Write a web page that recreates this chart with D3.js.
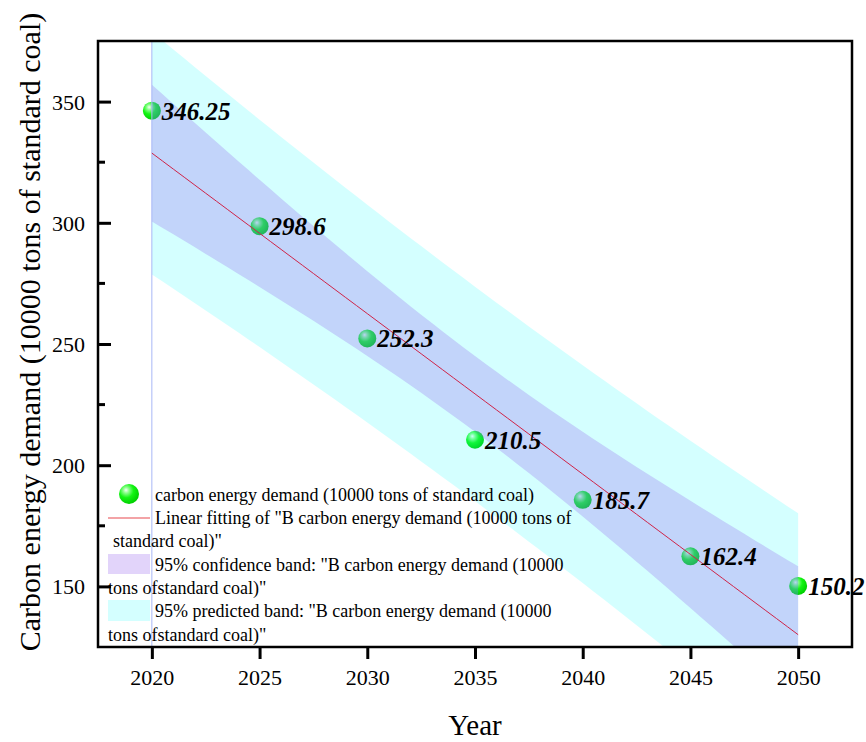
<!DOCTYPE html>
<html>
<head>
<meta charset="utf-8">
<script src="https://cdn.jsdelivr.net/npm/d3@7"></script>
<style>
  html, body { margin: 0; padding: 0; background: #fff; }
  svg { display: block; }
  svg text { font-family: "Liberation Serif", "Times New Roman", serif !important; }
</style>
</head>
<body>
<div id="chart"></div>
<script>
// Carbon energy demand forecast with linear fit, 95% confidence and prediction bands.
const years = [2020, 2025, 2030, 2035, 2040, 2045, 2050];
const demand = [346.25, 298.6, 252.3, 210.5, 185.7, 162.4, 150.2];
const pointLabels = ["346.25", "298.6", "252.3", "210.5", "185.7", "162.4", "150.2"];
const xTicks = [2020, 2025, 2030, 2035, 2040, 2045, 2050];
const yTicks = [150, 200, 250, 300, 350];
const yMinorTicks = [175, 225, 275, 325];
const legendLines = [
  { text: 'carbon energy demand (10000 tons of standard coal)', x: 155, y: 501 },
  { text: 'Linear fitting of "B carbon energy demand (10000 tons of', x: 155, y: 524 },
  { text: 'standard coal)"', x: 113, y: 547 },
  { text: '95% confidence band: "B carbon energy demand (10000', x: 155, y: 571 },
  { text: 'tons ofstandard coal)"', x: 108, y: 594 },
  { text: '95% predicted band: "B carbon energy demand (10000', x: 155, y: 617 },
  { text: 'tons ofstandard coal)"', x: 108, y: 641 }
];
const T975_DF5 = 2.5706; // Student t, two-sided 95%, 5 degrees of freedom

const W = 866, H = 742;
const plot = { left: 98, right: 852, top: 41, bottom: 647 };

const svg = d3.select('#chart').append('svg')
  .attr('width', W)
  .attr('height', H);

const x = d3.scaleLinear().domain([2017.5, 2052.5]).range([plot.left, plot.right]);
const y = d3.scaleLinear().domain([125, 375]).range([plot.bottom, plot.top]);

// Least squares fit on the data
const n = years.length;
const mx = d3.mean(years), my = d3.mean(demand);
const sxx = d3.sum(years, v => (v - mx) ** 2);
const sxy = d3.sum(years, (v, i) => (v - mx) * (demand[i] - my));
const slope = sxy / sxx;
const intercept = my - slope * mx;
const fit = v => intercept + slope * v;
const sse = d3.sum(years, (v, i) => (demand[i] - fit(v)) ** 2);
const s = Math.sqrt(sse / (n - 2));

const bandX = d3.range(2020, 2050.001, 0.5);
const bands = bandX.map(v => {
  const base = (v - mx) ** 2 / sxx;
  const ci = T975_DF5 * s * Math.sqrt(1 / n + base);
  const pi = T975_DF5 * s * Math.sqrt(1 + 1 / n + base);
  return { x: v, f: fit(v), ciLo: fit(v) - ci, ciHi: fit(v) + ci, piLo: fit(v) - pi, piHi: fit(v) + pi };
});

const defs = svg.append('defs');
defs.append('clipPath').attr('id', 'clip')
  .append('rect')
  .attr('x', plot.left).attr('y', plot.top)
  .attr('width', plot.right - plot.left).attr('height', plot.bottom - plot.top);

const grad = defs.append('radialGradient').attr('id', 'ball')
  .attr('cx', '38%').attr('cy', '35%').attr('r', '65%')
  .attr('fx', '35%').attr('fy', '30%');
grad.append('stop').attr('offset', '0%').attr('stop-color', '#f4fff4');
grad.append('stop').attr('offset', '22%').attr('stop-color', '#8dff8d');
grad.append('stop').attr('offset', '55%').attr('stop-color', '#14f514');
grad.append('stop').attr('offset', '100%').attr('stop-color', '#00d000');

const body = svg.append('g').attr('clip-path', 'url(#clip)');

// Points and value labels (the bands are laid over them)
body.selectAll('.pt').data(years).enter().append('circle')
  .attr('class', 'pt')
  .attr('cx', d => x(d))
  .attr('cy', (d, i) => y(demand[i]))
  .attr('r', 9)
  .attr('fill', 'url(#ball)');

svg.selectAll('.val').data(years).enter().append('text')
  .attr('class', 'val')
  .attr('x', d => x(d) + 10)
  .attr('y', (d, i) => y(demand[i]) + 9)
  .attr('font-size', 25)
  .attr('font-weight', 'bold')
  .attr('font-style', 'italic')
  .attr('fill', '#000')
  .text((d, i) => pointLabels[i]);

// Bands
const piArea = d3.area().x(d => x(d.x)).y0(d => y(d.piLo)).y1(d => y(d.piHi));
const ciArea = d3.area().x(d => x(d.x)).y0(d => y(d.ciLo)).y1(d => y(d.ciHi));

body.append('path').datum(bands)
  .attr('d', piArea)
  .attr('fill', 'rgb(0,255,255)')
  .attr('fill-opacity', 0.17);

body.append('path').datum(bands)
  .attr('d', ciArea)
  .attr('fill', 'rgb(140,83,235)')
  .attr('fill-opacity', 0.25);

body.append('line')
  .attr('x1', x(2020)).attr('x2', x(2020))
  .attr('y1', plot.top).attr('y2', plot.bottom)
  .attr('stroke', '#a9b8f6').attr('stroke-width', 1);

body.append('path').datum(bands)
  .attr('d', d3.line().x(d => x(d.x)).y(d => y(d.f)))
  .attr('fill', 'none')
  .attr('stroke', '#cf2448')
  .attr('stroke-width', 1);

// Axes
const xAxis = svg.append('g')
  .attr('transform', `translate(0,${plot.bottom})`)
  .call(d3.axisBottom(x).tickValues(xTicks).tickFormat(d3.format('d')).tickSize(12).tickPadding(10));
xAxis.select('.domain').remove();
xAxis.selectAll('line').attr('stroke', '#000').attr('stroke-width', 3);
xAxis.selectAll('text').attr('font-size', 22).attr('fill', '#000');

const yAxis = svg.append('g')
  .attr('transform', `translate(${plot.left},0)`)
  .call(d3.axisLeft(y).tickValues(yTicks).tickSize(-13).tickPadding(13));
yAxis.select('.domain').remove();
yAxis.selectAll('line').attr('stroke', '#000').attr('stroke-width', 3);
yAxis.selectAll('text').attr('font-size', 22).attr('fill', '#000')
  .attr('dy', '0.34em');

svg.append('g').selectAll('line').data(yMinorTicks).enter().append('line')
  .attr('x1', plot.left).attr('x2', plot.left + 7)
  .attr('y1', d => y(d)).attr('y2', d => y(d))
  .attr('stroke', '#000').attr('stroke-width', 3);

// Frame
svg.append('rect')
  .attr('x', plot.left).attr('y', plot.top)
  .attr('width', plot.right - plot.left).attr('height', plot.bottom - plot.top)
  .attr('fill', 'none').attr('stroke', '#000').attr('stroke-width', 2.5);

// Titles
svg.append('text')
  .attr('x', (plot.left + plot.right) / 2)
  .attr('y', 735)
  .attr('text-anchor', 'middle')
  .attr('font-size', 29)
  .text('Year');

svg.append('text')
  .attr('transform', 'translate(40,332) rotate(-90)')
  .attr('text-anchor', 'middle')
  .attr('font-size', 30)
  .text('Carbon energy demand (10000 tons of standard coal)');

// Legend
const legend = svg.append('g');
legend.append('circle').attr('cx', 129).attr('cy', 494).attr('r', 10).attr('fill', 'url(#ball)');
legend.append('line').attr('x1', 108).attr('x2', 150).attr('y1', 518).attr('y2', 518)
  .attr('stroke', '#e8484f').attr('stroke-width', 1.2);
legend.append('rect').attr('x', 108).attr('y', 554).attr('width', 42).attr('height', 20)
  .attr('fill', 'rgb(140,83,235)').attr('fill-opacity', 0.25);
legend.append('rect').attr('x', 108).attr('y', 600).attr('width', 42).attr('height', 21)
  .attr('fill', 'rgb(0,255,255)').attr('fill-opacity', 0.17);
legend.selectAll('text').data(legendLines).enter().append('text')
  .attr('x', d => d.x)
  .attr('y', d => d.y)
  .attr('font-size', 18)
  .attr('fill', '#000')
  .text(d => d.text);
</script>
</body>
</html>
